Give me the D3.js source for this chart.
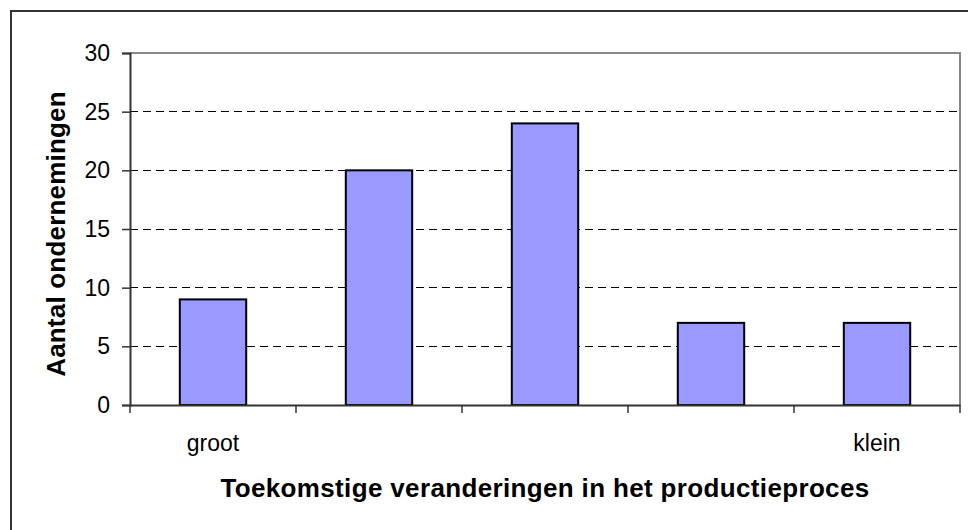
<!DOCTYPE html>
<html><head><meta charset="utf-8">
<script src="https://cdn.jsdelivr.net/npm/d3@7"></script>
<style>
html,body{margin:0;padding:0;background:#fff;}
svg{display:block;font-family:"Liberation Sans",Arial,sans-serif;}
</style></head>
<body>
<svg id="chart" width="968" height="530"></svg>
<script>
const categories = ["c1", "c2", "c3", "c4", "c5"];
const categoryLabels = ["groot", "", "", "", "klein"];
const values = [9, 20, 24, 7, 7];
const yTicks = [0, 5, 10, 15, 20, 25, 30];
const xTitle = "Toekomstige veranderingen in het productieproces";
const yTitle = "Aantal ondernemingen";

const svg = d3.select("#chart");
const L = 130, R = 960, T = 53, B = 405;

// outer frame (left + top only visible)
svg.append("path").attr("d", `M11,540 L11,11 L980,11`).attr("fill","none").attr("stroke","#333").attr("stroke-width",2);

const x = d3.scaleBand().domain(categories).range([L, R]).paddingInner(0.6).paddingOuter(0.3);
const xOuter = d3.scaleBand().domain(categories).range([L, R]).padding(0);
const y = d3.scaleLinear().domain([0, 30]).range([B, T]);

// gridlines
svg.append("g").selectAll("line").data(yTicks.filter(v => v > 0 && v < 30)).join("line")
  .attr("x1", L).attr("x2", R).attr("y1", d => y(d)).attr("y2", d => y(d))
  .attr("stroke", "#000").attr("stroke-width", 1).attr("stroke-dasharray", "8,5")
  .attr("shape-rendering","crispEdges");

// plot frame top/right grey
svg.append("path").attr("d", `M${L},${y(30)} L${R},${y(30)} L${R},${B}`)
  .attr("fill","none").attr("stroke","#888").attr("stroke-width",2);

// bars
svg.append("g").selectAll("rect").data(values).join("rect")
  .attr("x", (d,i) => x(categories[i]))
  .attr("width", x.bandwidth())
  .attr("y", d => y(d))
  .attr("height", d => B - y(d))
  .attr("fill", "#9999ff").attr("stroke", "#000").attr("stroke-width", 2);

// y axis
const yAxis = d3.axisLeft(y).tickValues(yTicks).tickSize(8).tickPadding(12);
const gy = svg.append("g").attr("transform", `translate(${L},0)`).call(yAxis);
gy.select(".domain").attr("stroke","#333").attr("stroke-width",2);
gy.selectAll(".tick line").attr("stroke","#333").attr("stroke-width",1.5);
gy.selectAll(".tick text").attr("font-size", 23).attr("fill","#000").attr("font-family","Liberation Sans, Arial, sans-serif");

// x axis
const xAxis = d3.axisBottom(xOuter).tickSize(0).tickFormat("");
const gx = svg.append("g").attr("transform", `translate(0,${B})`).call(xAxis);
gx.select(".domain").attr("stroke","#333").attr("stroke-width",2);
gx.selectAll(".tick").remove();
// boundary ticks
const bounds = categories.map(c => xOuter(c)).concat([xOuter(categories[categories.length-1]) + xOuter.bandwidth()]);
svg.append("g").selectAll("line").data(bounds).join("line")
  .attr("x1", d => d).attr("x2", d => d).attr("y1", B).attr("y2", B + 8)
  .attr("stroke","#333").attr("stroke-width",1.5);

// category labels
svg.append("g").selectAll("text").data(categoryLabels).join("text")
  .attr("x", (d,i) => xOuter(categories[i]) + xOuter.bandwidth()/2)
  .attr("y", 451).attr("text-anchor","middle").attr("font-size", 23).text(d => d);

// titles
svg.append("text").attr("x", (L+R)/2).attr("y", 497).attr("text-anchor","middle")
  .attr("font-size", 26).attr("font-weight","bold").attr("letter-spacing", 0.35).text(xTitle);
svg.append("text").attr("transform", `translate(65,234) rotate(-90)`).attr("text-anchor","middle")
  .attr("font-size", 26).attr("font-weight","bold").attr("letter-spacing", 0.2).text(yTitle);
</script>
</body></html>
